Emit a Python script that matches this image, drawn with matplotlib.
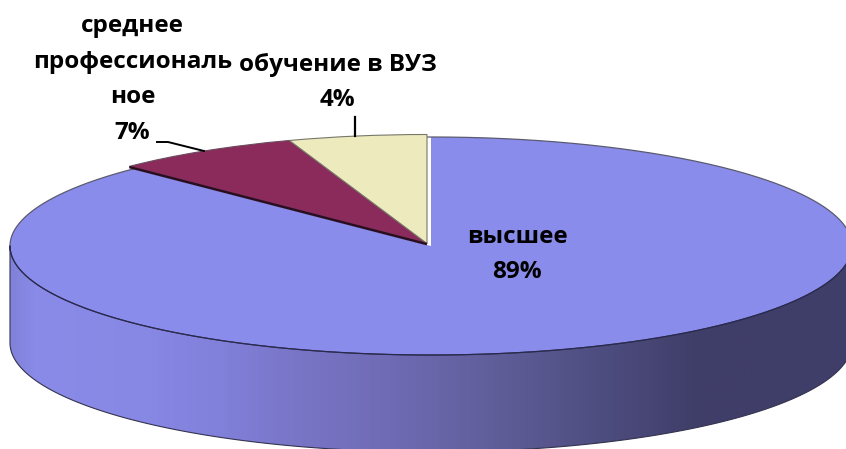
import numpy as np
import matplotlib
matplotlib.use("Agg")
import matplotlib.pyplot as plt
from matplotlib.colors import LinearSegmentedColormap
from matplotlib.patches import PathPatch
from matplotlib.path import Path

categories = ["высшее", "среднее\nпрофессиональ\nное", "обучение в ВУЗ"]
values = [89, 7, 4]
# shares as they appear on the tilted disc in the picture
drawn_shares = [87.5, 7.2, 5.3]
colors = ["#8A8CEB", "#8B2B5C", "#EDEBBD"]

W, H = 846, 449
CX, CY, RX, RY = 431.0, 246.0, 421.0, 109.0
DEPTH = 97.0 / RY

plt.rcParams["font.family"] = ["Open Sans", "DejaVu Sans"]
fig = plt.figure(figsize=(W / 100, H / 100), dpi=100)
ax = fig.add_axes([0, 0, 1, 1])


def px(x, y):
    return (x - CX) / RX, (CY - y) / RY


wedges, _ = ax.pie(drawn_shares, colors=colors, startangle=90, counterclock=False,
                   radius=1, wedgeprops=dict(linewidth=0))
ax.set_aspect("auto")

# back rim of the disc
t_all = np.linspace(0, np.pi, 300)
ax.plot(np.cos(t_all), np.sin(t_all), color="#5a5a70", lw=0.9, zorder=3)

# small offset of the two small slices, with thin edges
off = (-4.0 / RX, 2.5 / RY)
wedges[0].set_zorder(2)
for w, ec in zip(wedges[1:], ["#6a4a5c", "#77776a"]):
    w.set_center(off)
    w.set_edgecolor(ec)
    w.set_linewidth(0.8)
    w.set_zorder(4)

# dark shadow under the burgundy slice
ang = np.deg2rad(90 - 3.6 * drawn_shares[0])
ax.plot([off[0], off[0] + np.cos(ang)], [off[1] - 0.006, off[1] + np.sin(ang) - 0.006],
        color="#2a0d20", lw=1.8, zorder=5, solid_capstyle="butt")

# side of the disc
t = np.linspace(np.pi, 2 * np.pi, 300)
xs = np.cos(t)
ys = np.sin(t)
verts = np.r_[np.c_[xs, ys - DEPTH], np.c_[xs[::-1], ys[::-1]], [[xs[0], ys[0] - DEPTH]]]
codes = [Path.MOVETO] + [Path.LINETO] * (len(verts) - 2) + [Path.CLOSEPOLY]
side = PathPatch(Path(verts, codes), transform=ax.transData, fc="none",
                 ec="#33334f", lw=0.8, zorder=3)
ax.add_patch(side)

stops = [(10, "#8082DA"), (35, "#8A8BE8"), (150, "#8787E4"), (220, "#8180DA"),
         (300, "#7875C6"), (400, "#6E6AB2"), (500, "#5F5D98"), (626, "#4A497A"),
         (700, "#3F3E68"), (846, "#3F3E6A")]
cmap = LinearSegmentedColormap.from_list(
    "side", [((x - 10) / 836, c) for x, c in stops])
x0, _ = px(10, 0)
x1, _ = px(846, 0)
img = ax.imshow(np.linspace(0, 1, 600)[None, :], cmap=cmap, aspect="auto",
                extent=[x0, x1, -1 - DEPTH, 0], zorder=1)
img.set_clip_path(side)

# dark rim between the top face and the side
ax.plot(xs, ys, color="#2a2a50", lw=0.9, zorder=5)

# leader lines
ax.plot(*zip(px(157, 142), px(168, 142), px(204, 151)), color="black", lw=1.4, zorder=6)
ax.plot(*zip(px(355, 117), px(355, 136)), color="black", lw=1.6, zorder=6)

# labels
label_pos = [(517, 254.5), (132.5, 79.5), (337.5, 82.5)]
for cat, v, (lx, ly) in zip(categories, values, label_pos):
    ax.text(*px(lx, ly), f"{cat}\n{v}%", ha="center", va="center", fontsize=17.5,
            fontweight="bold", color="black", linespacing=1.66, zorder=7)

ax.set_xlim(-CX / RX, (W - CX) / RX)
ax.set_ylim((CY - H) / RY, CY / RY)
ax.axis("off")
fig.savefig("out.png", dpi=100, facecolor="white")
